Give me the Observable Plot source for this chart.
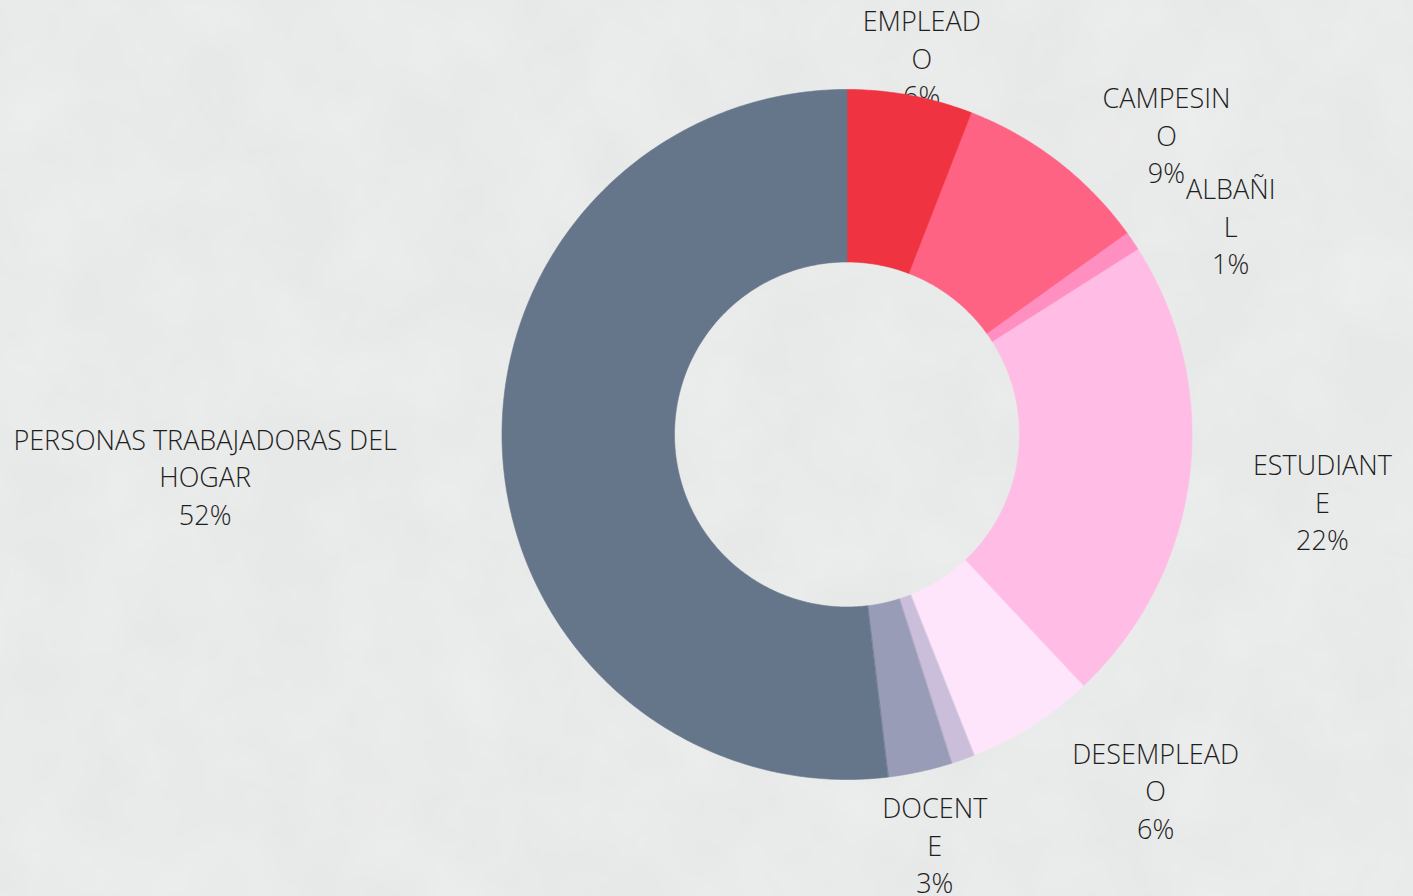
<!DOCTYPE html>
<html>
<head>
<meta charset="utf-8">
<script src="https://cdn.jsdelivr.net/npm/d3@7"></script>
<script src="https://cdn.jsdelivr.net/npm/@observablehq/plot@0.6"></script>
<style>
  html, body { margin: 0; padding: 0; overflow: hidden; }
  body {
    background-color: #e7e8e8;
    background-image: url("data:image/svg+xml;utf8,<svg xmlns='http://www.w3.org/2000/svg' width='1413' height='896'><filter id='n'><feTurbulence type='fractalNoise' baseFrequency='0.012' numOctaves='4' seed='3'/><feColorMatrix values='0 0 0 0 1  0 0 0 0 1  0 0 0 0 1  0 0 0 0.35 -0.1'/></filter><rect width='100%' height='100%' filter='url(%23n)'/></svg>");
  }
  #chart svg { display: block; }
</style>
</head>
<body>
<div id="chart"></div>
<script>
// ---- data ----
const categories = ["EMPLEADO", "CAMPESINO", "ALBAÑIL", "ESTUDIANTE", "DESEMPLEADO", "OTRO", "DOCENTE", "PERSONAS TRABAJADORAS DEL HOGAR"];
const values = [5.9, 9.2, 0.9, 22.0, 6.0, 1.1, 3.0, 51.9];
const displayNames = ["EMPLEAD\nO", "CAMPESIN\nO", "ALBAÑI\nL", "ESTUDIANT\nE", "DESEMPLEAD\nO", null, "DOCENT\nE", "PERSONAS TRABAJADORAS DEL\nHOGAR"];
const colors = ["#ef3340", "#ff6384", "#ff8fc0", "#ffbde6", "#ffe5fb", "#cbbedb", "#999cb6", "#65768b"];

// ---- layout (polar label placement, degrees clockwise from top; distance in outer radii) ----
const labelAngle = [11.3, 47.1, 61.8, 98.4, 139.3, 0, 168.0, 266.0];
const labelDist  = [1.105, 1.264, 1.262, 1.393, 1.372, 0, 1.224, 1.865];

const W = 1413, H = 896, R = 345, cx = 846.5, cy = 434, inner = 0.5;

const total = d3.sum(values);
const arcs = d3.pie().sort(null).value(d => d)(values);

const slicePts = [];
arcs.forEach((a, i) => {
  const n = Math.max(2, Math.ceil((a.endAngle - a.startAngle) / (Math.PI / 360)));
  for (let k = 0; k <= n; k++) {
    const t = a.startAngle + (a.endAngle - a.startAngle) * k / n;
    slicePts.push({cat: categories[i], x: Math.sin(t), y: Math.cos(t)});
  }
  for (let k = n; k >= 0; k--) {
    const t = a.startAngle + (a.endAngle - a.startAngle) * k / n;
    slicePts.push({cat: categories[i], x: inner * Math.sin(t), y: inner * Math.cos(t)});
  }
});

const labels = [];
categories.forEach((c, i) => {
  if (!displayNames[i]) return;
  const t = labelAngle[i] * Math.PI / 180;
  const pct = Math.round(values[i] / total * 100) + "%";
  labels.push({
    text: displayNames[i] + "\n" + pct,
    x: labelDist[i] * Math.sin(t),
    y: labelDist[i] * Math.cos(t)
  });
});

const chart = Plot.plot({
  width: W,
  height: H,
  margin: 0,
  style: {background: "transparent"},
  x: {domain: [-cx / R, (W - cx) / R], axis: null},
  y: {domain: [-(H - cy) / R, cy / R], axis: null},
  color: {domain: categories, range: colors},
  marks: [
    Plot.text(labels, {
      x: "x", y: "y", text: "text", dy: -4,
      fontSize: 27, lineHeight: 1.39, fontWeight: 300,
      fontFamily: "'Open Sans', sans-serif",
      fill: "#1e1e1e", textAnchor: "middle"
    }),
    Plot.line(slicePts, {
      x: "x", y: "y", z: "cat", fill: "cat", stroke: "cat",
      strokeWidth: 0.6, curve: "linear-closed"
    })
  ]
});
document.getElementById("chart").append(chart);
</script>
</body>
</html>
